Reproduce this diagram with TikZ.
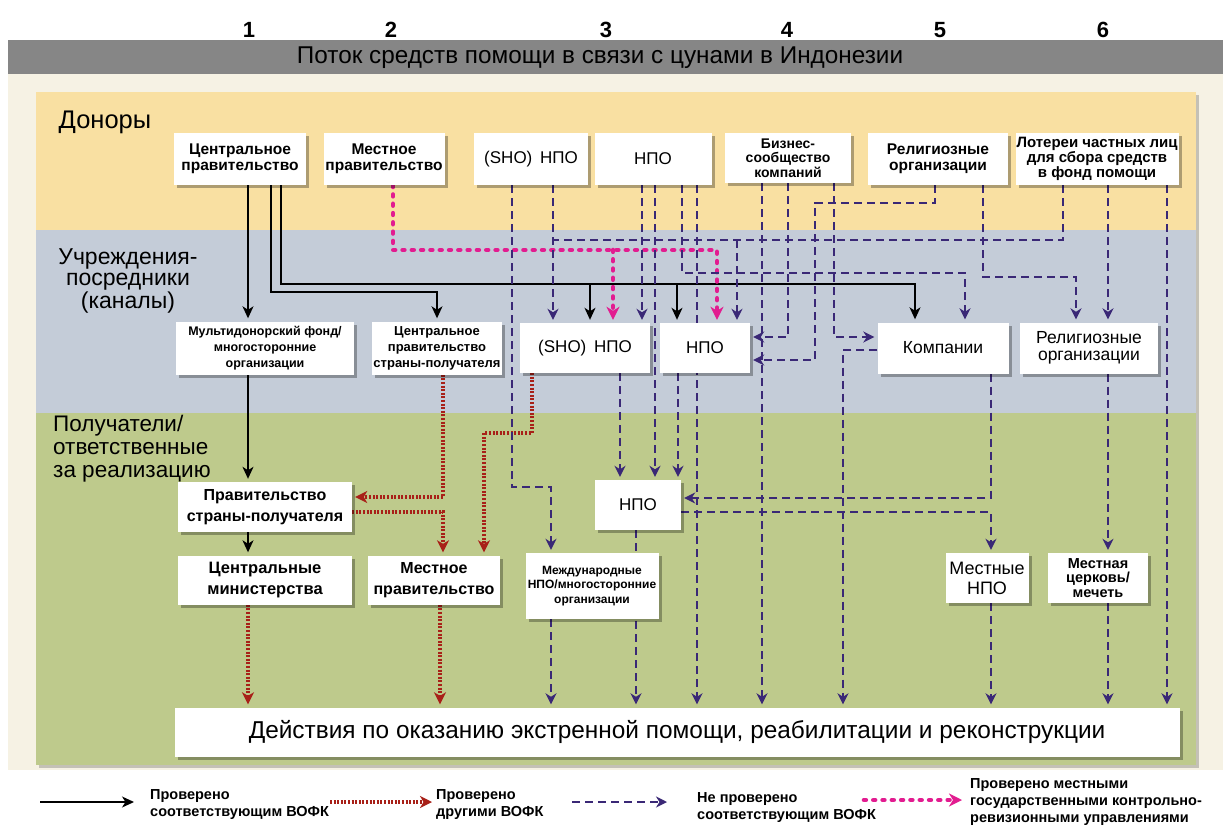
\documentclass[tikz,border=0pt]{standalone}
\usepackage{fontspec}
\setmainfont{Liberation Sans}
\usetikzlibrary{arrows.meta,shadows}

\definecolor{titlegray}{RGB}{134,134,134}
\definecolor{cream}{RGB}{246,242,228}
\definecolor{donorbg}{RGB}{249,224,162}
\definecolor{chanbg}{RGB}{196,204,216}
\definecolor{recbg}{RGB}{190,202,140}
\definecolor{audred}{RGB}{168,32,24}
\definecolor{unpurp}{RGB}{58,40,118}
\definecolor{locmag}{RGB}{226,28,144}

\pgfdeclarelayer{bands}
\pgfdeclarelayer{links}
\pgfsetlayers{bands,links,main}

\newcommand\setfs[2]{\fontsize{#1}{#2}\selectfont}

\tikzset{
  card/.style={fill=white, inner sep=1pt, align=center, text=black,
    drop shadow={shadow xshift=3pt, shadow yshift=-3pt, opacity=0.3, fill=black}},
  bandshadow/.style={drop shadow={shadow xshift=3pt, shadow yshift=-3pt, opacity=0.2, fill=black}},
  bandlabel/.style={inner sep=0pt, text=black},
  legtext/.style={inner sep=0pt, align=left, anchor=west, font=\bfseries\setfs{14.5}{17}},
  solidflow/.style={draw=black, line width=1.4pt,
    -{Stealth[length=12pt,width=11pt,inset=3.5pt]}, shorten >=3pt},
  redflow/.style={draw=audred, line width=3.2pt, dash pattern=on 2pt off 1.6pt,
    -{Stealth[length=12pt,width=12pt,inset=3.5pt,fill=audred]}, shorten >=3pt},
  magflow/.style={draw=locmag, line width=4.6pt, line cap=round, dash pattern=on 1.8pt off 7.5pt,
    -{Stealth[length=13pt,width=13pt,inset=4pt,fill=locmag,line cap=butt]}, shorten >=3pt},
  dashflow/.style={draw=unpurp, line width=1.7pt, dash pattern=on 8pt off 5pt,
    -{Stealth[length=11pt,width=11pt,inset=3.5pt,fill=unpurp]}, shorten >=3pt},
  dashplain/.style={draw=unpurp, line width=1.7pt, dash pattern=on 8pt off 5pt},
}

\begin{document}
\begin{tikzpicture}[x=1pt,y=-1pt]
\useasboundingbox (0,0) rectangle (1223,837);

% ---------- background bands ----------
\begin{pgfonlayer}{bands}
  \fill[white] (0,0) rectangle (1223,837);
  \fill[cream] (8,74) rectangle (1223,770);
  \fill[titlegray] (8,40) rectangle (1223,74);
  \fill[donorbg, bandshadow] (36,92) rectangle (1196,230);
  \fill[chanbg, bandshadow] (36,230) rectangle (1196,413);
  \fill[recbg, bandshadow] (36,413) rectangle (1196,765);
\end{pgfonlayer}

% ---------- column numbers and title ----------
\node[font=\bfseries\setfs{22}{22}] (num1) at (249,30) {1};
\node[font=\bfseries\setfs{22}{22}] (num2) at (391,30) {2};
\node[font=\bfseries\setfs{22}{22}] (num3) at (606,30) {3};
\node[font=\bfseries\setfs{22}{22}] (num4) at (787,30) {4};
\node[font=\bfseries\setfs{22}{22}] (num5) at (940,30) {5};
\node[font=\bfseries\setfs{22}{22}] (num6) at (1103,30) {6};
\node[font=\setfs{24.3}{24.3}] (title) at (600,58) {Поток средств помощи в связи с цунами в Индонезии};

% ---------- band labels ----------
\node[bandlabel, font=\setfs{25.5}{25.5}] (lbdon) at (105,122) {Доноры};
\node[bandlabel, font=\setfs{23}{21}, align=center] (lbchan) at (128,281) {Учреждения-\\посредники\\(каналы)};
\node[bandlabel, font=\setfs{22.5}{23}, align=left, anchor=west] (lbrec) at (53,449) {Получатели/\\ответственные\\за реализацию};

% ---------- donors ----------
\node[card, minimum width=132pt, minimum height=52pt, font=\bfseries\setfs{15.5}{16}] (d1) at (240,159) {Центральное\\правительство};
\node[card, minimum width=121pt, minimum height=52pt, font=\bfseries\setfs{15.5}{16}] (d2) at (384,159) {Местное\\правительство};
\node[card, minimum width=114pt, minimum height=52pt, font=\setfs{17}{17}] (d3) at (531,159) {(SHO)\hspace{0.45em}НПО};
\node[card, minimum width=117pt, minimum height=52pt, font=\setfs{17}{17}] (d4) at (653,159) {НПО};
\node[card, minimum width=126pt, minimum height=50pt, font=\bfseries\setfs{14}{14.5}] (d5) at (788,158) {Бизнес-\\сообщество\\компаний};
\node[card, minimum width=140pt, minimum height=52pt, font=\bfseries\setfs{15.5}{15.5}] (d6) at (938,159) {Религиозные\\организации};
\node[card, minimum width=163pt, minimum height=52pt, font=\bfseries\setfs{15}{15}] (d7) at (1097,159) {Лотереи частных лиц\\для сбора средств\\в фонд помощи};

% ---------- intermediary channels ----------
\node[card, minimum width=178pt, minimum height=53pt, font=\bfseries\setfs{12.5}{16}] (i1) at (265,348) {Мультидонорский фонд/\\многосторонние\\организации};
\node[card, minimum width=130pt, minimum height=53pt, font=\bfseries\setfs{13}{16}] (i2) at (437,348) {Центральное\\правительство\\страны-получателя};
\node[card, minimum width=130pt, minimum height=50pt, font=\setfs{17}{17}] (i3) at (585,348) {(SHO)\hspace{0.45em}НПО};
\node[card, minimum width=90pt, minimum height=50pt, font=\setfs{17}{17}] (i4) at (705,348) {НПО};
\node[card, minimum width=131pt, minimum height=51pt, font=\setfs{17.5}{17.5}] (i5) at (943,348) {Компании};
\node[card, minimum width=138pt, minimum height=51pt, font=\setfs{17.5}{16.5}] (i6) at (1089,348) {Религиозные\\организации};

% ---------- recipients ----------
\node[card, minimum width=174pt, minimum height=50pt, font=\bfseries\setfs{16}{21}] (r1) at (265,507) {Правительство\\страны-получателя};
\node[card, minimum width=174pt, minimum height=49pt, font=\bfseries\setfs{16.5}{21}] (r2) at (265,580) {Центральные\\министерства};
\node[card, minimum width=132pt, minimum height=49pt, font=\bfseries\setfs{16}{21}] (r3) at (434,580) {Местное\\правительство};
\node[card, minimum width=133pt, minimum height=66pt, font=\bfseries\setfs{12}{14.5}] (r4) at (592,586) {Международные\\НПО/многосторонние\\организации};
\node[card, minimum width=86pt, minimum height=50pt, font=\setfs{17}{17}] (r5) at (638,505) {НПО};
\node[card, minimum width=83pt, minimum height=50pt, font=\setfs{18}{20}] (r6) at (987,578) {Местные\\НПО};
\node[card, minimum width=100pt, minimum height=50pt, font=\bfseries\setfs{14.5}{14.5}] (r7) at (1098,578) {Местная\\церковь/\\мечеть};
\node[card, minimum width=1005pt, minimum height=49pt, font=\setfs{24.4}{24.4}] (act) at (677,732) {Действия по оказанию экстренной помощи, реабилитации и реконструкции};

% ---------- flows ----------
\begin{pgfonlayer}{links}
  % verified by the responsible audit body
  \draw[solidflow] ([xshift=8pt]d1.south) -- ([xshift=8pt]d1.south |- i1.north);
  \draw[solidflow] ([xshift=31pt]d1.south) |- (437,292) -- (i2.north);
  \draw[solidflow] ([xshift=41pt]d1.south) |- (915,284) -- ([xshift=-28pt]i5.north);
  \draw[solidflow] (590,284) -- ([xshift=5pt]i3.north);
  \draw[solidflow] (677,284) -- ([xshift=-28pt]i4.north);
  \draw[solidflow] ([xshift=-17pt]i1.south) -- ([xshift=-17pt]i1.south |- r1.north);
  \draw[solidflow] ([xshift=-17pt]r1.south) -- ([xshift=-17pt]r2.north);

  % verified by other audit bodies
  \draw[redflow] ([xshift=6pt]i2.south) |- ([yshift=10pt]r1.east);
  \draw[redflow] ([yshift=-5pt]r1.east) -| ([xshift=9pt]r3.north);
  \draw[redflow] ([xshift=-53pt]i3.south) |- (484,433) -- ([xshift=50pt]r3.north);
  \draw[redflow] ([xshift=-17pt]r2.south) -- ([xshift=-17pt]r2.south |- act.north);
  \draw[redflow] ([xshift=6pt]r3.south) -- ([xshift=6pt]r3.south |- act.north);

  % verified by local government audit offices
  \draw[magflow] ([xshift=9pt]d2.south) |- (717,250) -- ([xshift=12pt]i4.north);
  \draw[magflow] (613,250) -- ([xshift=28pt]i3.north);

  % not verified
  \draw[dashflow] ([xshift=-19pt]d3.south) |- (551,487) -- ([xshift=-41pt]r4.north);
  \draw[dashflow] ([xshift=22pt]d3.south) -- ([xshift=22pt]d3.south |- i3.north);
  \draw[dashplain] ([xshift=-34pt]d7.south) |- (553,240);
  \draw[dashflow] (737,240) -- ([xshift=32pt]i4.north);
  \draw[dashflow] ([xshift=-11pt]d4.south) -- ([xshift=-11pt]d4.south |- i3.north);
  \draw[dashflow] ([xshift=2pt]d4.south) -- ([xshift=2pt]d4.south |- r5.north);
  \draw[dashflow] ([xshift=29pt]d4.south) |- (965,273) -- ([xshift=22pt]i5.north);
  \draw[dashflow] ([xshift=44pt]d4.south) -- ([xshift=44pt]d4.south |- act.north);
  \draw[dashflow] ([xshift=-26pt]d5.south) -- ([xshift=-26pt]d5.south |- act.north);
  \draw[dashflow] (d5.south) |- ([yshift=11pt]i4.east);
  \draw[dashflow] ([xshift=46pt]d5.south) |- ([yshift=11pt]i5.west);
  \draw[dashflow] ([xshift=-3pt]d6.south) |- (815,203) |- ([yshift=-12pt]i4.east);
  \draw[dashflow] ([xshift=45pt]d6.south) |- (1076,277) -- ([xshift=-13pt]i6.north);
  \draw[dashflow] ([xshift=11pt]d7.south) -- ([xshift=11pt]d7.south |- i6.north);
  \draw[dashflow] ([xshift=70pt]d7.south) -- ([xshift=70pt]d7.south |- act.north);
  \draw[dashflow] ([yshift=-2pt]i5.west) -| ([xshift=166pt]act.north);
  \draw[dashflow] ([xshift=35pt]i3.south) -- ([xshift=35pt]i3.south |- r5.north);
  \draw[dashflow] ([xshift=-27pt]i4.south) -- ([xshift=-27pt]i4.south |- r5.north);
  \draw[dashflow] ([xshift=48pt]i5.south) |- ([yshift=7pt]r5.east);
  \draw[dashflow] ([yshift=-7pt]r5.east) -| ([xshift=4pt]r6.north);
  \draw[dashflow] ([xshift=19pt]i6.south) -- ([xshift=19pt]i6.south |- r7.north);
  \draw[dashflow] ([xshift=4pt]r6.south) -- ([xshift=4pt]r6.south |- act.north);
  \draw[dashflow] ([xshift=10pt]r7.south) -- ([xshift=10pt]r7.south |- act.north);
  \draw[dashflow] ([xshift=-2pt]r5.south) -- ([xshift=-2pt]r5.south |- act.north);
  \draw[dashflow] ([xshift=-41pt]r4.south) -- ([xshift=-41pt]r4.south |- act.north);
\end{pgfonlayer}

% ---------- legend ----------
\coordinate (l1a) at (40,802);  \coordinate (l1b) at (134,802);
\coordinate (l2a) at (330,802); \coordinate (l2b) at (432,802);
\coordinate (l3a) at (572,802); \coordinate (l3b) at (667,802);
\coordinate (l4a) at (864,800); \coordinate (l4b) at (962,800);
\draw[solidflow, shorten >=0pt] (l1a) -- (l1b);
\draw[redflow, shorten >=0pt] (l2a) -- (l2b);
\draw[dashflow, shorten >=0pt] (l3a) -- (l3b);
\draw[magflow, shorten >=0pt] (l4a) -- (l4b);
\node[legtext] (l1t) at (150,805) {Проверено\\соответствующим ВОФК};
\node[legtext] (l2t) at (436,805) {Проверено\\другими ВОФК};
\node[legtext] (l3t) at (697,808) {Не проверено\\соответствующим ВОФК};
\node[legtext] (l4t) at (970,802) {Проверено местными\\государственными контрольно-\\ревизионными управлениями};
\end{tikzpicture}
\end{document}
